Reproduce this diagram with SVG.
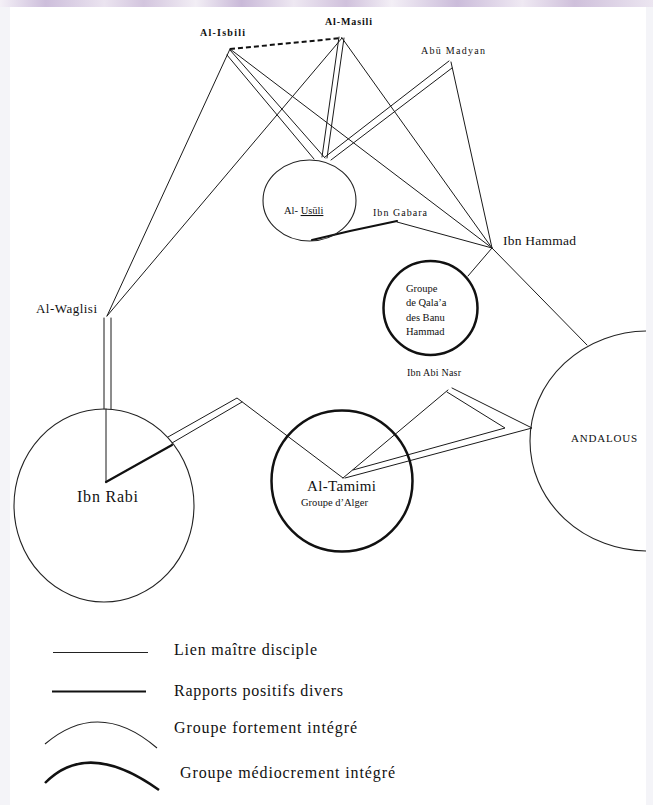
<svg xmlns="http://www.w3.org/2000/svg" width="653" height="805" viewBox="0 0 653 805">
<defs>
<linearGradient id="band" x1="0" y1="0" x2="653" y2="0" gradientUnits="userSpaceOnUse">
<stop offset="0" stop-color="#f4f0f7"/>
<stop offset="0.07" stop-color="#cdbedb"/>
<stop offset="0.16" stop-color="#ebe4f0"/>
<stop offset="0.22" stop-color="#d3c5de"/>
<stop offset="0.3" stop-color="#f2eef5"/>
<stop offset="0.37" stop-color="#c9b9d8"/>
<stop offset="0.45" stop-color="#eee8f2"/>
<stop offset="0.53" stop-color="#d0c1dc"/>
<stop offset="0.6" stop-color="#f3eff6"/>
<stop offset="0.7" stop-color="#cbbcda"/>
<stop offset="0.8" stop-color="#efe9f3"/>
<stop offset="0.88" stop-color="#cfc0db"/>
<stop offset="1" stop-color="#ece6f1"/>
</linearGradient>
<clipPath id="clipR"><rect x="0" y="0" width="646" height="805"/></clipPath>
</defs>
<style>
.ln{fill:none;stroke:#1a1a1a;stroke-width:1;stroke-linecap:round;stroke-linejoin:round}
.tk{fill:none;stroke:#111;stroke-width:2.2;stroke-linecap:round}
.dash{fill:none;stroke:#111;stroke-width:2;stroke-dasharray:5 3}
.g1{fill:none;stroke:#222;stroke-width:1.1}
.g2{fill:none;stroke:#111;stroke-width:2.5}
text{font-family:"Liberation Serif","Times New Roman",serif;fill:#111}
.sm{font-size:10px}
.md{font-size:10.5px}
.b{font-weight:bold}
.lg{font-size:16px}
</style>
<rect x="0" y="0" width="653" height="805" fill="#ffffff"/>
<rect x="0" y="0" width="10" height="805" fill="#f4f4f8"/>
<rect x="646" y="0" width="7" height="805" fill="#f4f4f8"/>
<rect x="0" y="0" width="653" height="7" fill="url(#band)"/>

<g id="connectors">
<line class="dash" x1="230" y1="49" x2="342" y2="38"/>
<line class="ln" x1="230" y1="49" x2="107" y2="316"/>
<line class="ln" x1="342" y1="38" x2="107" y2="316"/>
<line class="ln" x1="230" y1="50" x2="325" y2="158"/>
<line class="ln" x1="227" y1="55" x2="314" y2="159"/>
<line class="ln" x1="339" y1="37" x2="322" y2="157"/>
<line class="ln" x1="344" y1="38" x2="327" y2="158"/>
<line class="ln" x1="449" y1="61" x2="325" y2="157"/>
<line class="ln" x1="452" y1="68" x2="331" y2="160"/>
<line class="ln" x1="230" y1="49" x2="492" y2="248"/>
<line class="ln" x1="342" y1="38" x2="492" y2="248"/>
<line class="ln" x1="451" y1="62" x2="492" y2="248"/>
<path class="tk" d="M312,240 L350,231 L397,221"/>
<line class="ln" x1="397" y1="222" x2="492" y2="248"/>
<line class="ln" x1="492" y1="248" x2="468" y2="276"/>
<line class="ln" x1="492" y1="248" x2="587" y2="345"/>
<line class="ln" x1="104" y1="318" x2="104" y2="409"/>
<line class="ln" x1="111" y1="318" x2="111" y2="409"/>
<line class="ln" x1="106" y1="409" x2="106" y2="482"/>
<line class="tk" x1="106" y1="482" x2="172" y2="445"/>
<polyline class="ln" points="168,437 237,398 343,478"/>
<line class="ln" x1="172" y1="443" x2="242" y2="402"/>
<line class="ln" x1="448" y1="390" x2="343" y2="478"/>
<polyline class="ln" points="452,388 532,428 345,478"/>
<polyline class="ln" points="447,392 505,428 353,470"/>
</g>

<g id="al-isbili"><text class="sm b" x="200" y="36" textLength="45" lengthAdjust="spacing">Al-Isbili</text></g>
<g id="al-masili"><text class="sm b" x="325" y="25" textLength="47" lengthAdjust="spacing">Al-Masili</text></g>
<g id="abu-madyan"><text class="sm" x="421" y="54" textLength="64" lengthAdjust="spacing">Abū Madyan</text></g>
<g id="al-usuli">
<ellipse class="g1" cx="309.5" cy="200.5" rx="46.5" ry="40.5"/>
<text class="md" x="284" y="214">Al- <tspan text-decoration="underline">Usūli</tspan></text>
</g>
<g id="ibn-gabara"><text class="sm" x="373" y="216" textLength="54" lengthAdjust="spacing">Ibn Gabara</text></g>
<g id="ibn-hammad"><text x="503" y="245" font-size="13.5" textLength="73" lengthAdjust="spacing">Ibn Hammad</text></g>
<g id="groupe-qalaa">
<circle class="g2" cx="430.5" cy="308" r="47"/>
<text class="md" x="406" y="292">Groupe</text>
<text class="md" x="406" y="306">de Qala’a</text>
<text class="md" x="406" y="321">des Banu</text>
<text class="md" x="406" y="335">Hammad</text>
</g>
<g id="al-waglisi"><text x="36" y="313" font-size="13" textLength="61" lengthAdjust="spacing">Al-Waglisi</text></g>
<g id="ibn-rabi">
<ellipse class="g1" cx="104" cy="505.5" rx="90" ry="96.5"/>
<text x="77" y="502" font-size="16" textLength="61" lengthAdjust="spacing">Ibn Rabi</text>
</g>
<g id="al-tamimi">
<circle class="g2" cx="342" cy="481" r="70.5"/>
<text x="307" y="491" font-size="15" textLength="69" lengthAdjust="spacing">Al-Tamimi</text>
<text x="301" y="506" font-size="10.5" textLength="67" lengthAdjust="spacing">Groupe d’Alger</text>
</g>
<g id="ibn-abi-nasr"><text class="sm" x="407" y="376" textLength="54" lengthAdjust="spacing">Ibn Abi Nasr</text></g>
<g id="andalous">
<ellipse class="g1" cx="648" cy="441" rx="118" ry="110" clip-path="url(#clipR)"/>
<text x="571" y="442" font-size="11" textLength="66" lengthAdjust="spacing">ANDALOUS</text>
</g>

<g id="legend">
<line class="g1" x1="53" y1="652.5" x2="148" y2="652.5"/>
<text class="lg" x="174" y="655" textLength="143" lengthAdjust="spacing">Lien maître disciple</text>
<line stroke="#111" stroke-width="2" x1="52" y1="691.5" x2="146" y2="691.5"/>
<text class="lg" x="174" y="696" textLength="169" lengthAdjust="spacing">Rapports positifs divers</text>
<path class="g1" d="M45,744 Q99,698 157,748"/>
<text class="lg" x="174" y="733" textLength="183" lengthAdjust="spacing">Groupe fortement intégré</text>
<path class="g2" d="M45,783 Q88,739 159,790"/>
<text class="lg" x="180" y="778" textLength="215" lengthAdjust="spacing">Groupe médiocrement intégré</text>
</g>
</svg>
